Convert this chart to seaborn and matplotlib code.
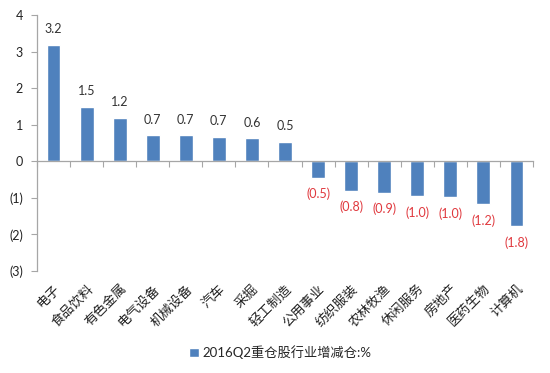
import matplotlib
matplotlib.use("Agg")
import matplotlib.pyplot as plt
import seaborn as sns
import numpy as np
import pandas as pd
from matplotlib.ticker import FixedLocator

categories = ["电子", "食品饮料", "有色金属", "电气设备", "机械设备", "汽车", "采掘", "轻工制造",
              "公用事业", "纺织服装", "农林牧渔", "休闲服务", "房地产", "医药生物", "计算机"]
values = [3.19, 1.48, 1.19, 0.71, 0.71, 0.67, 0.63, 0.54,
          -0.46, -0.80, -0.86, -0.96, -0.99, -1.18, -1.78]
series_name = "2016Q2重仓股行业增减仓:%"
y_ticks = [-3, -2, -1, 0, 1, 2, 3, 4]

sns.set_theme(style="white")
plt.rcParams["font.family"] = ["Lato", "Noto Sans CJK SC", "DejaVu Sans"]

df = pd.DataFrame({"cat": categories, "val": values})

fig = plt.figure(figsize=(5.5, 3.73), dpi=100)
ax = fig.add_axes([37 / 550, 1 - 271 / 373, (533 - 37) / 550, (271 - 15) / 373])

blue = "#4F81BD"
sns.barplot(data=df, x="cat", y="val", color=blue, width=0.42, ax=ax,
            saturation=1, label=series_name)

ax.set_ylim(-3, 4)
ax.set_xlim(-0.5, len(categories) - 0.5)
ax.set_yticks(y_ticks)
ax.set_yticklabels([f"({abs(t)})" if t < 0 else str(t) for t in y_ticks],
                   fontsize=9, color="#222222")
ax.set_xlabel("")
ax.set_ylabel("")

# spines
for s in ["top", "right"]:
    ax.spines[s].set_visible(False)
gray = "#A6A6A6"
ax.spines["left"].set_color(gray)
ax.spines["left"].set_linewidth(0.9)
ax.spines["bottom"].set_position(("data", 0))
ax.spines["bottom"].set_color(gray)
ax.spines["bottom"].set_linewidth(0.9)

ax.tick_params(axis="y", which="major", direction="out", length=4, width=0.8,
               color=gray, left=True, pad=6)
ax.xaxis.set_minor_locator(FixedLocator(np.arange(-0.5, len(categories), 1.0)))
ax.tick_params(axis="x", which="minor", direction="out", length=4, width=0.8,
               color=gray, bottom=True)
ax.tick_params(axis="x", which="major", length=0, pad=87)
ax.set_xticks(range(len(categories)))
ax.set_xticklabels(categories, rotation=45, ha="right", rotation_mode="anchor",
                   fontsize=9.5, family=["Noto Sans CJK SC"], color="#222222")

# value labels
labels = [f"{v:.1f}" if v >= 0 else f"({abs(v):.1f})" for v in values]
texts = ax.bar_label(ax.containers[0], labels=labels, padding=7, fontsize=9)
for t, v in zip(texts, values):
    t.set_color("#333333" if v >= 0 else "#E0393E")

# legend
ax.legend(loc="center", bbox_to_anchor=(0.51, 1 - 352 / 373), bbox_transform=fig.transFigure,
          frameon=False, fontsize=9.5, handlelength=0.7, handleheight=0.7, handletextpad=0.3)

fig.savefig("out.png", dpi=100)
